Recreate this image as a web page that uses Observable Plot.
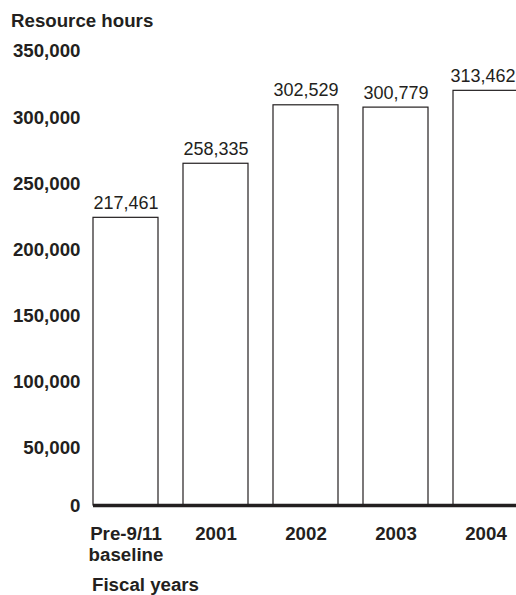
<!DOCTYPE html>
<html>
<head>
<meta charset="utf-8">
<script src="https://cdn.jsdelivr.net/npm/d3@7"></script>
<script src="https://cdn.jsdelivr.net/npm/@observablehq/plot@0.6"></script>
<style>
  html, body { margin: 0; padding: 0; background: #fff; overflow: hidden; }
  body { width: 516px; height: 595px; font-family: "Liberation Sans", Arial, Helvetica, sans-serif; color: #231f20; }
  .title { height: 36px; padding: 11px 0 0 11px; box-sizing: border-box; font-size: 18.7px; font-weight: bold; line-height: 20px; }
  .caption { padding: 5px 0 0 92px; font-size: 18.7px; font-weight: bold; line-height: 20px; }
  #chart svg { display: block; }
</style>
</head>
<body>
<div class="title">Resource hours</div>
<div id="chart"></div>
<div class="caption">Fiscal years</div>
<script>
const categories = ["Pre-9/11\nbaseline", "2001", "2002", "2003", "2004"];
const hours = [217461, 258335, 302529, 300779, 313462];
const yTicks = [0, 50000, 100000, 150000, 200000, 250000, 300000, 350000];

const data = categories.map((c, i) => ({cat: c, v: hours[i]}));
const fmt = d3.format(",");
const ink = "#231f20";

const chart = Plot.plot({
  width: 516,
  height: 534,
  marginTop: 6,
  marginBottom: 65,
  marginLeft: 93,
  marginRight: 0,
  style: {fontFamily: '"Liberation Sans", Arial, Helvetica, sans-serif', fontSize: "18px", color: ink, background: "#fff", overflow: "visible"},
  x: {domain: categories, range: [93, 518], paddingInner: 25 / 90, paddingOuter: 0},
  y: {domain: [0, 350000]},
  marks: [
    Plot.barY(data, {x: "cat", y: "v", fill: "#fff", stroke: ink, strokeWidth: 1.2}),
    Plot.text(data.slice(0, 4), {x: "cat", y: "v", text: d => fmt(d.v), lineAnchor: "bottom", dy: -9, fill: ink}),
    Plot.text(data.slice(4), {x: "cat", y: "v", text: d => fmt(d.v), lineAnchor: "bottom", dy: -9, dx: -3, fill: ink}),
    Plot.ruleY([0], {stroke: ink, strokeWidth: 3.5}),
    Plot.axisY(yTicks.filter(t => t > 0), {tickSize: 0, tickPadding: 13, dy: 9, fontSize: 18.7, fontWeight: "bold", tickFormat: fmt, label: null, fill: ink}),
    Plot.axisY([0], {tickSize: 0, tickPadding: 13, dy: 1, fontSize: 18.7, fontWeight: "bold", tickFormat: fmt, label: null, fill: ink}),
    Plot.axisX({tickSize: 0, tickPadding: 19, fontSize: 18.7, lineHeight: 1.15, fontWeight: "bold", label: null, fill: ink})
  ]
});
document.getElementById("chart").appendChild(chart);
</script>
</body>
</html>
